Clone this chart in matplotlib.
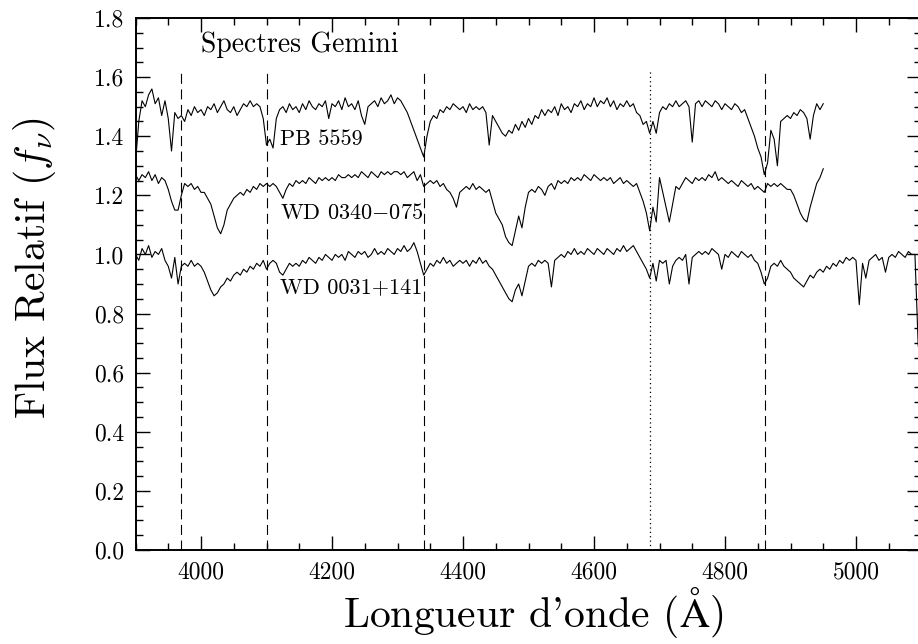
import matplotlib
matplotlib.use("Agg")
import matplotlib.pyplot as plt
import numpy as np
from matplotlib.ticker import MultipleLocator, FormatStrFormatter

plt.rcParams["font.family"] = ["cmr10", "DejaVu Serif"]
plt.rcParams["mathtext.fontset"] = "cm"
plt.rcParams["axes.formatter.use_mathtext"] = True

# spectra sampled every 5 A, one row = 50 A
STEP = 5.0

pb_start = 3900.0
pb_flux = [
    1.31, 1.45, 1.52, 1.50, 1.54, 1.56, 1.51, 1.53, 1.47, 1.52,  # 3900
    1.46, 1.35, 1.48, 1.46, 1.47, 1.45, 1.49, 1.47, 1.50, 1.48,  # 3950
    1.49, 1.47, 1.50, 1.49, 1.51, 1.48, 1.50, 1.52, 1.49, 1.48,  # 4000
    1.50, 1.47, 1.49, 1.51, 1.50, 1.52, 1.50, 1.51, 1.50, 1.46,  # 4050
    1.37, 1.39, 1.36, 1.46, 1.49, 1.50, 1.48, 1.51, 1.49, 1.50,  # 4100
    1.48, 1.51, 1.49, 1.52, 1.50, 1.49, 1.51, 1.50, 1.52, 1.46,  # 4150
    1.51, 1.50, 1.52, 1.49, 1.53, 1.50, 1.51, 1.49, 1.52, 1.47,  # 4200
    1.44, 1.50, 1.51, 1.52, 1.50, 1.53, 1.51, 1.52, 1.54, 1.51,  # 4250
    1.53, 1.52, 1.50, 1.48, 1.45, 1.42, 1.39, 1.36, 1.33, 1.40,  # 4300
    1.45, 1.47, 1.46, 1.49, 1.48, 1.50, 1.49, 1.51, 1.50, 1.49,  # 4350
    1.50, 1.48, 1.51, 1.49, 1.50, 1.49, 1.50, 1.48, 1.37, 1.47,  # 4400
    1.45, 1.43, 1.41, 1.40, 1.42, 1.41, 1.44, 1.42, 1.45, 1.43,  # 4450
    1.46, 1.44, 1.47, 1.46, 1.49, 1.47, 1.49, 1.48, 1.50, 1.47,  # 4500
    1.51, 1.49, 1.50, 1.48, 1.51, 1.50, 1.52, 1.49, 1.51, 1.50,  # 4550
    1.53, 1.50, 1.52, 1.51, 1.53, 1.50, 1.52, 1.49, 1.51, 1.50,  # 4600
    1.52, 1.50, 1.51, 1.48, 1.47, 1.44, 1.45, 1.41, 1.45, 1.41,  # 4650
    1.48, 1.50, 1.49, 1.51, 1.50, 1.52, 1.50, 1.51, 1.52, 1.50,  # 4700
    1.38, 1.51, 1.52, 1.50, 1.52, 1.51, 1.50, 1.52, 1.51, 1.49,  # 4750
    1.51, 1.50, 1.49, 1.51, 1.50, 1.48, 1.49, 1.46, 1.43, 1.40,  # 4800
    1.36, 1.33, 1.27, 1.31, 1.42, 1.39, 1.30, 1.45, 1.46, 1.47,  # 4850
    1.46, 1.48, 1.47, 1.49, 1.48, 1.46, 1.39, 1.47, 1.51, 1.49,  # 4900
    1.51,                                                        # 4950
]

wd0340_start = 3900.0
wd0340_flux = [
    1.27, 1.25, 1.27, 1.26, 1.28, 1.25, 1.27, 1.24, 1.26, 1.25,  # 3900
    1.22, 1.18, 1.15, 1.15, 1.20, 1.24, 1.23, 1.24, 1.22, 1.23,  # 3950
    1.21, 1.21, 1.19, 1.17, 1.13, 1.09, 1.07, 1.10, 1.15, 1.17,  # 4000
    1.19, 1.20, 1.21, 1.20, 1.22, 1.21, 1.23, 1.22, 1.24, 1.23,  # 4050
    1.24, 1.23, 1.24, 1.23, 1.21, 1.19, 1.22, 1.24, 1.23, 1.25,  # 4100
    1.24, 1.25, 1.24, 1.26, 1.25, 1.24, 1.26, 1.25, 1.26, 1.25,  # 4150
    1.26, 1.25, 1.27, 1.26, 1.26, 1.27, 1.26, 1.27, 1.26, 1.28,  # 4200
    1.27, 1.26, 1.28, 1.27, 1.26, 1.28, 1.27, 1.28, 1.27, 1.28,  # 4250
    1.28, 1.27, 1.28, 1.26, 1.27, 1.28, 1.25, 1.27, 1.23, 1.24,  # 4300
    1.25, 1.24, 1.25, 1.23, 1.24, 1.22, 1.21, 1.19, 1.16, 1.21,  # 4350
    1.22, 1.23, 1.22, 1.24, 1.22, 1.23, 1.22, 1.21, 1.22, 1.18,  # 4400
    1.14, 1.12, 1.10, 1.06, 1.04, 1.03, 1.08, 1.13, 1.09, 1.16,  # 4450
    1.21, 1.22, 1.21, 1.23, 1.22, 1.20, 1.23, 1.24, 1.22, 1.25,  # 4500
    1.24, 1.25, 1.24, 1.26, 1.25, 1.26, 1.25, 1.27, 1.26, 1.25,  # 4550
    1.27, 1.26, 1.25, 1.26, 1.25, 1.26, 1.24, 1.25, 1.26, 1.24,  # 4600
    1.25, 1.24, 1.23, 1.24, 1.21, 1.18, 1.14, 1.08, 1.16, 1.11,  # 4650
    1.26, 1.21, 1.16, 1.11, 1.17, 1.23, 1.22, 1.24, 1.26, 1.25,  # 4700
    1.24, 1.26, 1.25, 1.26, 1.25, 1.27, 1.26, 1.28, 1.25, 1.26,  # 4750
    1.25, 1.24, 1.25, 1.24, 1.23, 1.25, 1.24, 1.23, 1.24, 1.22,  # 4800
    1.23, 1.22, 1.21, 1.24, 1.23, 1.24, 1.23, 1.24, 1.23, 1.22,  # 4850
    1.22, 1.20, 1.17, 1.14, 1.12, 1.11, 1.16, 1.20, 1.24, 1.26,  # 4900
    1.29,                                                        # 4950
]

wd0031_start = 3900.0
wd0031_flux = [
    1.00, 0.98, 1.02, 1.00, 1.03, 0.99, 1.01, 1.00, 1.02, 0.98,  # 3900
    0.96, 0.92, 0.99, 0.90, 0.96, 0.97, 0.96, 0.98, 0.96, 0.97,  # 3950
    0.96, 0.94, 0.91, 0.88, 0.86, 0.87, 0.89, 0.90, 0.92, 0.91,  # 4000
    0.93, 0.94, 0.93, 0.95, 0.94, 0.96, 0.95, 0.97, 0.96, 0.98,  # 4050
    0.95, 0.97, 0.98, 0.97, 0.94, 0.93, 0.95, 0.97, 0.96, 0.97,  # 4100
    0.96, 0.98, 0.97, 0.99, 0.98, 0.97, 0.99, 0.98, 1.00, 0.99,  # 4150
    0.98, 1.00, 0.99, 1.00, 0.98, 1.01, 1.00, 0.99, 1.01, 1.00,  # 4200
    1.01, 0.99, 1.00, 1.02, 1.00, 1.01, 1.00, 1.02, 1.01, 1.00,  # 4250
    1.02, 1.01, 1.03, 1.01, 1.02, 1.04, 1.01, 0.97, 0.93, 0.95,  # 4300
    0.97, 0.96, 0.98, 0.97, 0.99, 0.97, 0.98, 0.96, 0.97, 0.98,  # 4350
    0.97, 0.98, 0.96, 0.98, 0.97, 0.99, 0.97, 0.98, 0.96, 0.95,  # 4400
    0.93, 0.91, 0.89, 0.87, 0.85, 0.84, 0.88, 0.90, 0.86, 0.91,  # 4450
    0.96, 0.97, 0.96, 0.98, 0.97, 0.98, 0.97, 0.89, 0.98, 0.99,  # 4500
    1.00, 0.99, 1.01, 1.00, 1.02, 1.00, 1.01, 1.00, 1.02, 1.01,  # 4550
    1.00, 1.02, 1.01, 1.00, 1.02, 1.01, 1.00, 1.02, 1.01, 1.03,  # 4600
    1.01, 1.02, 1.03, 1.01, 0.99, 0.97, 0.95, 0.92, 0.97, 0.91,  # 4650
    0.98, 0.97, 0.98, 0.90, 0.96, 0.98, 0.99, 0.98, 1.00, 0.90,  # 4700
    0.99, 1.00, 1.01, 1.00, 1.01, 1.00, 1.02, 1.01, 1.00, 0.95,  # 4750
    1.00, 0.99, 1.01, 1.00, 0.99, 1.01, 1.00, 0.99, 1.00, 0.98,  # 4800
    0.97, 0.94, 0.90, 0.92, 0.96, 0.97, 0.96, 0.98, 0.96, 0.95,  # 4850
    0.94, 0.92, 0.91, 0.90, 0.89, 0.91, 0.93, 0.92, 0.94, 0.95,  # 4900
    0.94, 0.96, 0.95, 0.97, 0.96, 0.98, 0.97, 0.99, 0.98, 0.99,  # 4950
    0.98, 0.83, 0.97, 0.92, 0.98, 0.99, 1.00, 0.98, 0.99, 0.94,  # 5000
    0.99, 1.00, 0.99, 1.01, 1.00, 0.99, 1.01, 1.00, 1.00, 0.69,  # 5050
]

spectra = [
    ("PB 5559", pb_start, pb_flux, 1.37),
    ("WD 0340$-$075", wd0340_start, wd0340_flux, 1.12),
    ("WD 0031+141", wd0031_start, wd0031_flux, 0.87),
]
label_wl = 4121

balmer_lines = [3970, 4101, 4340, 4861]
heii_lines = [4686]
line_top = 1.625

fig = plt.figure(figsize=(9.18, 6.44), dpi=100)
ax = fig.add_axes([135.5 / 918, 94 / 644, 786 / 918, 532 / 644])

for name, start, flux, ylab in spectra:
    wl = start + STEP * np.arange(len(flux))
    ax.plot(wl, flux, color="black", lw=0.8)
    ax.text(label_wl, ylab, name, fontsize=16, ha="left", va="baseline")

for w in balmer_lines:
    ax.plot([w, w], [0, line_top], color="black", lw=0.8, dashes=(9, 5))
for w in heii_lines:
    ax.plot([w, w], [0, line_top], color="black", lw=0.9, dashes=(1, 2.5))

ax.text(4000, 1.685, "Spectres Gemini", fontsize=20, ha="left", va="baseline")

ax.set_xlim(3900, 5100)
ax.set_ylim(0, 1.8)
ax.xaxis.set_major_locator(MultipleLocator(200))
ax.xaxis.set_minor_locator(MultipleLocator(50))
ax.yaxis.set_major_locator(MultipleLocator(0.2))
ax.yaxis.set_minor_locator(MultipleLocator(0.05))
ax.xaxis.set_major_formatter(FormatStrFormatter("%d"))
ax.yaxis.set_major_formatter(FormatStrFormatter("%.1f"))
ax.tick_params(which="both", direction="in", top=True, right=True, width=1.0)
ax.tick_params(which="major", length=10, labelsize=17, pad=8)
ax.tick_params(which="minor", length=5)
for sp in ax.spines.values():
    sp.set_linewidth(1.4)

ax.set_xlabel("Longueur d'onde ($\\mathrm{\\AA}$)", fontsize=30, va="center")
ax.set_ylabel("Flux Relatif ($f_\\nu$)", fontsize=30, va="center")
ax.xaxis.set_label_coords((533 - 135.5) / 786, (550 - 612) / 532)
ax.yaxis.set_label_coords((34 - 135.5) / 786, (550 - 268) / 532)

fig.savefig("out.png", dpi=100)
